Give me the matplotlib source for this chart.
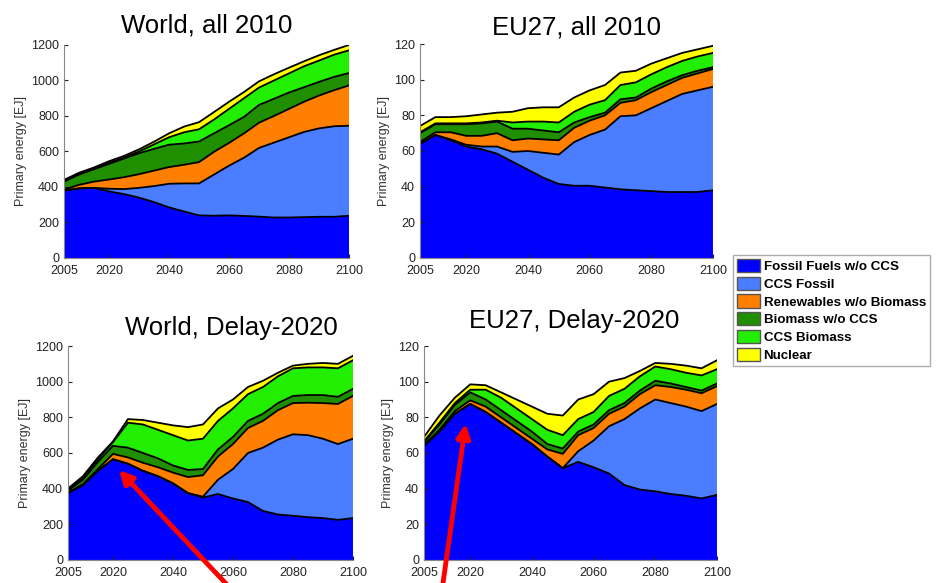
import numpy as np
import matplotlib
matplotlib.use('Agg')
import matplotlib.pyplot as plt
from matplotlib.patches import Patch

plt.rcParams['font.family'] = ['Liberation Sans', 'DejaVu Sans']

years = np.arange(2005, 2101, 5)
layer_names = ['Fossil Fuels w/o CCS', 'CCS Fossil', 'Renewables w/o Biomass',
               'Biomass w/o CCS', 'CCS Biomass', 'Nuclear']
layer_colors = ['#0000ff', '#4a7dff', '#ff7f00', '#1f8f00', '#22ee00', '#ffff00']

# cumulative tops of each layer, EJ
world_2010 = [
    [380, 392, 395, 375, 360, 340, 315, 285, 262, 240, 238, 240, 237, 233, 228, 228, 230, 232, 232, 238],
    [380, 392, 395, 390, 388, 395, 405, 418, 420, 420, 470, 520, 565, 620, 650, 680, 710, 730, 742, 745],
    [385, 412, 430, 442, 455, 472, 492, 512, 525, 540, 598, 648, 702, 762, 800, 840, 880, 915, 945, 972],
    [430, 470, 500, 530, 560, 590, 615, 638, 645, 656, 702, 748, 795, 862, 897, 932, 962, 992, 1020, 1042],
    [435, 472, 503, 536, 566, 600, 640, 680, 708, 725, 780, 840, 900, 960, 1000, 1040, 1080, 1112, 1145, 1170],
    [440, 480, 510, 545, 575, 612, 655, 702, 740, 765, 822, 880, 935, 995, 1035, 1072, 1108, 1142, 1172, 1200],
]
eu_2010 = [
    [64, 69, 66, 62.5, 61, 58.5, 54, 49.5, 45, 41.5, 40.5, 40.5, 39.5, 38.5, 38, 37.5, 37, 37, 37, 38],
    [64, 69, 66.5, 63.5, 62.5, 62.5, 59.5, 60, 59, 58, 65, 69, 72, 79.5, 80, 84, 88, 92, 94, 96],
    [65, 70.5, 70.5, 68.5, 68.5, 70, 66, 67, 66.5, 66, 73, 77, 80, 87, 88.5, 93, 97, 101, 103.5, 106],
    [70, 75, 75, 75, 75.5, 76.5, 72.5, 72.5, 71.5, 70.5, 76, 79, 81.5, 89, 90, 95, 99, 102.5, 105, 107],
    [70.5, 75.5, 75.5, 75.5, 76, 77, 76, 76.5, 76.5, 76, 82, 86, 88.5, 97, 98.5, 103, 107, 110.5, 113, 115],
    [74, 79, 79, 79.5, 80.5, 81.5, 82, 84, 84.5, 84.5, 90, 94, 97, 104, 105, 109, 112, 115, 117, 119],
]
world_delay = [
    [375, 420, 500, 565, 540, 500, 470, 430, 375, 350, 370, 345, 325, 275, 255, 248, 240, 235, 225, 235],
    [375, 420, 500, 565, 540, 500, 470, 430, 375, 355, 450, 510, 600, 630, 675, 705, 700, 680, 650, 680],
    [378, 425, 510, 595, 575, 545, 520, 490, 465, 475, 580, 650, 740, 780, 840, 880, 882, 880, 875, 920],
    [390, 450, 550, 640, 630, 600, 570, 530, 505, 510, 620, 690, 780, 820, 880, 920, 925, 925, 915, 960],
    [395, 460, 565, 660, 770, 760, 730, 700, 670, 680, 780, 850, 930, 970, 1030, 1075, 1080, 1080, 1075, 1120],
    [400, 470, 575, 665, 790, 785, 770, 755, 745, 760, 850, 900, 970, 1005, 1050, 1090, 1100, 1105, 1100, 1145],
]
eu_delay = [
    [64, 72, 82, 87.5, 83, 77, 71, 65, 58, 51.5, 55, 52, 48.5, 42, 39.5, 38.5, 37, 36, 34.5, 36.5],
    [64, 72, 82, 87.5, 83, 77, 71, 65, 58, 51.5, 61, 67, 75, 79, 85, 90, 88, 86, 83.5, 87.5],
    [64.5, 73, 83.5, 89.5, 86, 80, 74, 68, 62, 59.5, 70, 74, 82, 86, 93, 98, 97, 95.5, 93.5, 97.5],
    [66, 76, 87, 94, 90, 84, 78, 72, 65, 62.5, 72, 76, 84, 88, 95, 100.5, 99, 97, 95, 99],
    [66.5, 77, 88, 95.5, 95.5, 91, 85, 79, 73, 70, 79, 83, 92, 96, 103, 108.5, 107, 105, 103.5, 107],
    [69, 81, 91, 98.5, 98, 94, 90, 86, 82, 81, 90, 93, 100, 102, 106, 110.5, 110, 109, 107.5, 112],
]

panels = [
    (world_2010, 'World, all 2010', [0.0684, 0.5575, 0.3045, 0.3654], 1200, 200, (207, 25)),
    (eu_2010, 'EU27, all 2010', [0.4487, 0.5575, 0.3130, 0.3670], 120, 20, (577, 28)),
    (world_delay, 'World, Delay-2020', [0.0726, 0.0395, 0.3045, 0.3670], 1200, 200, (231, 328)),
    (eu_delay, 'EU27, Delay-2020', [0.4530, 0.0395, 0.3130, 0.3670], 120, 20, (574, 321)),
]

fig = plt.figure(figsize=(9.36, 5.83), dpi=100)

for tops, title, rect, ymax, ystep, tpos in panels:
    ax = fig.add_axes(rect)
    lower = np.zeros(len(years))
    for top, col in zip(tops, layer_colors):
        top = np.array(top, dtype=float)
        ax.fill_between(years, lower, top, facecolor=col, edgecolor='none')
        ax.plot(years, top, color='black', lw=1.3)
        lower = top
    ax.set_xlim(2005, 2100)
    ax.set_ylim(0, ymax)
    ax.set_xticks([2005, 2020, 2040, 2060, 2080, 2100])
    ax.set_yticks(np.arange(0, ymax + 1, ystep))
    ax.tick_params(direction='in', length=3, labelsize=9, colors='#222222')
    ax.tick_params(axis='x', pad=5)
    for s in ['top', 'right']:
        ax.spines[s].set_visible(False)
    for s in ['left', 'bottom']:
        ax.spines[s].set_color('#888888')
    ax.set_ylabel('Primary energy [EJ]', fontsize=9, color='#333333', labelpad=3)
    fig.text(tpos[0] / 936, 1 - tpos[1] / 583, title, ha='center', va='center', fontsize=18.5)

handles = [Patch(facecolor=c, edgecolor='#555555', label=n) for n, c in zip(layer_names, layer_colors)]
fig.legend(handles=handles, loc='upper left', bbox_to_anchor=(0.783, 0.5626),
           frameon=True, fancybox=False, edgecolor='#999999',
           prop={'weight': 'bold', 'size': 9.6}, handlelength=1.7, handleheight=1.15,
           handletextpad=0.3, labelspacing=0.27, borderpad=0.3, borderaxespad=0)

for tail, tip in [((232, 590), (117, 468)), ((442, 590), (466, 421))]:
    fig.add_artist(plt.Annotation('', xy=(tip[0] / 936, 1 - tip[1] / 583),
                                  xytext=(tail[0] / 936, 1 - tail[1] / 583),
                                  xycoords='figure fraction', textcoords='figure fraction',
                                  arrowprops=dict(arrowstyle='-|>,head_length=0.8,head_width=0.4',
                                                  color='#ff0000', lw=3.5)))

fig.savefig('out.png', dpi=100)
